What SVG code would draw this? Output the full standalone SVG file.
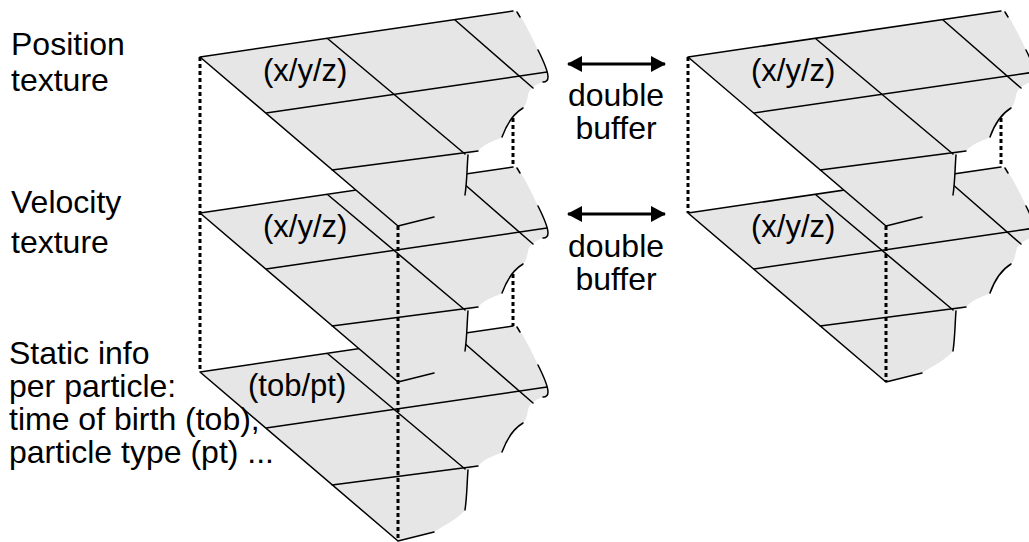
<svg xmlns="http://www.w3.org/2000/svg" width="1029" height="542" viewBox="0 0 1029 542">
<style>
.lbl{font-family:"Liberation Sans",Arial,sans-serif;font-size:32px;fill:#000}
.in{font-size:31px}
.mid{text-anchor:middle}
.fill{fill:#e6e6e6;stroke:none}
.ln{fill:none;stroke:#000;stroke-width:1.5;stroke-linecap:round;stroke-linejoin:round}
.dot{fill:none;stroke:#000;stroke-width:3;stroke-dasharray:4 3}
.arr{fill:none;stroke:#000;stroke-width:3;marker-start:url(#ah);marker-end:url(#ah)}
</style>
<defs>
<marker id="ah" viewBox="0 0 15 16" refX="14" refY="8" markerWidth="15" markerHeight="16" markerUnits="userSpaceOnUse" orient="auto-start-reverse">
<path d="M0,0 L15,8 L0,16 Z" fill="#000"/>
</marker>
<g id="slab">
<path class="fill" d="M0,0 L313,-46 L318,-44 C324,-36 331,-22 338,-7 C343,3 348,13 348,20 C348,23 346,25 343,25 C336,27 329,32 328,38 C327,44 326,48 323,51 C313,57 306,69 302,80 C295,84 285,86 278,94 L268,98 C267,110 267,125 265,138 C258,147 246,152 234,160 L198,169 Z"/>
<path class="ln" d="M0,0 L313,-46 M0,0 L198,169 M66,56 L347,15 M132,113 L278,94 M198,169 L234,160 M127.5,-18.5 L265,97 M255,-37 L333,31"/>
<path class="ln" d="M317,-45 L320,-40 M338,-7 C343,3 348,13 348,20 C348,23 346,25 343,25 M323,51 C313,57 306,69 302,80 M268,98 C267,110 267,125 265,138"/>
</g>
</defs>

<g id="static-info-left" transform="translate(200,372)">
<use href="#slab"/>
<text class="lbl in" x="48" y="24">(tob/pt)</text>
</g>
<g id="velocity-left" transform="translate(200,213)">
<use href="#slab"/>
<text class="lbl in" x="63" y="24">(x/y/z)</text>
</g>
<g id="position-left" transform="translate(200,57)">
<use href="#slab"/>
<text class="lbl in" x="63" y="24">(x/y/z)</text>
</g>
<g id="velocity-right" transform="translate(688,213)">
<use href="#slab"/>
<text class="lbl in" x="63" y="24">(x/y/z)</text>
</g>
<g id="position-right" transform="translate(688,57)">
<use href="#slab"/>
<text class="lbl in" x="63" y="24">(x/y/z)</text>
</g>

<g id="connectors">
<path class="dot" d="M200,57 V372 M398,226 V540 M513,118 V167 M513,274 V326 M688,57 V213 M886,226 V382 M1001,118 V167"/>
<line class="arr" x1="568" y1="64" x2="665" y2="64"/>
<line class="arr" x1="568" y1="214" x2="665" y2="214"/>
</g>

<g id="labels">
<text class="lbl" x="11" y="55">Position</text>
<text class="lbl" x="11" y="91">texture</text>
<text class="lbl" x="11" y="213">Velocity</text>
<text class="lbl" x="11" y="253">texture</text>
<text class="lbl" x="9" y="364">Static info</text>
<text class="lbl" x="9" y="397">per particle:</text>
<text class="lbl" x="9" y="430">time of birth (tob),</text>
<text class="lbl" x="9" y="463">particle type (pt) ...</text>
<text class="lbl mid" x="616" y="106">double</text>
<text class="lbl mid" x="616" y="139">buffer</text>
<text class="lbl mid" x="616" y="257">double</text>
<text class="lbl mid" x="616" y="290">buffer</text>
</g>
</svg>
